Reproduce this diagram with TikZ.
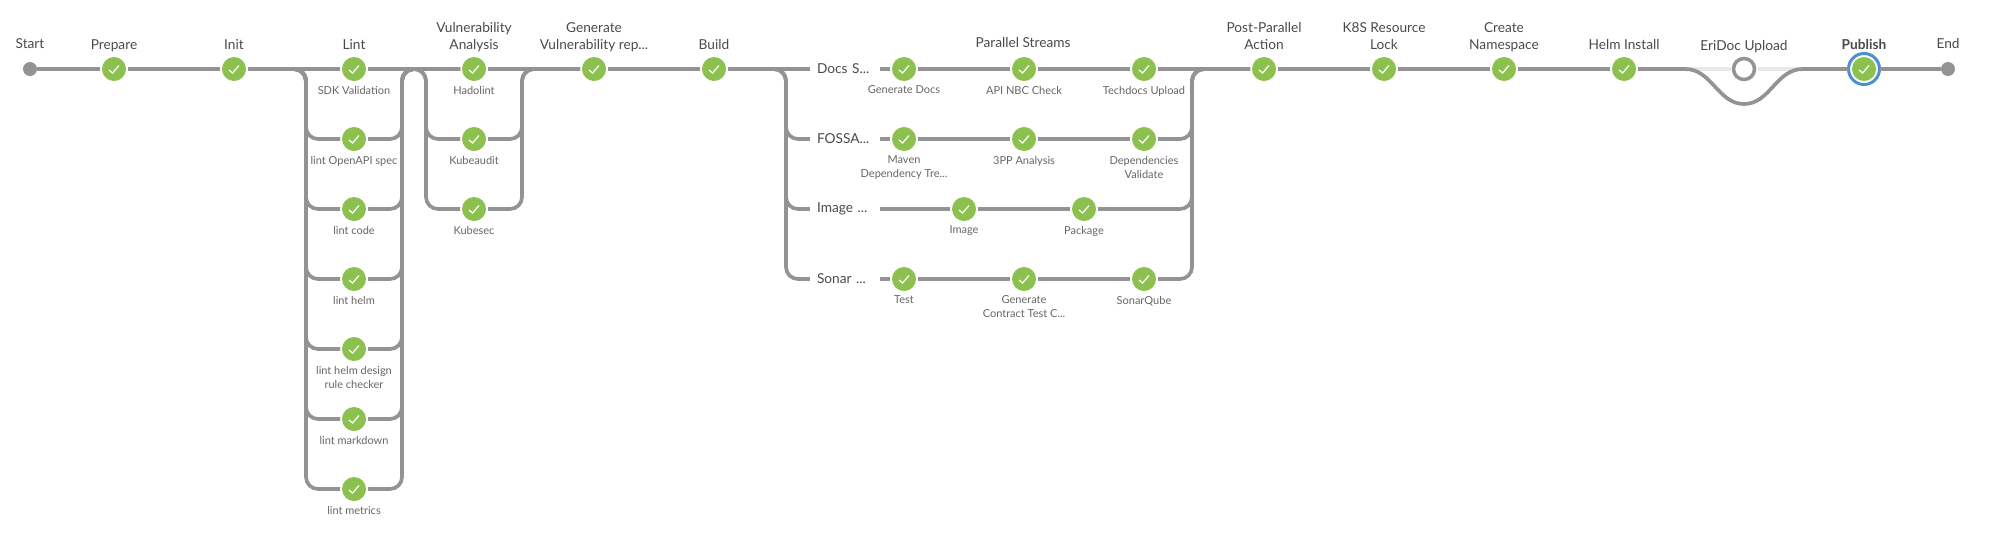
\documentclass[tikz,border=0pt]{standalone}
\usepackage{fontspec}
\setmainfont{Lato}
\definecolor{pipegray}{HTML}{949393}
\definecolor{skipgray}{HTML}{E8E8E8}
\definecolor{okgreen}{HTML}{8CC04F}
\definecolor{ringblue}{HTML}{4A90D2}
\definecolor{titlegray}{HTML}{4A4A4A}
\definecolor{subgray}{HTML}{666666}
\begin{document}
\begin{tikzpicture}[
    x=1pt, y=-1pt,
    toplabel/.style={font=\fontsize{13.7}{17}\selectfont, text=titlegray, align=center, inner sep=0pt, text depth=4pt, yshift=1pt},
    endlabel/.style={toplabel, yshift=8.5pt},
    sublabel/.style={font=\fontsize{11}{14}\selectfont, text=subgray, align=center, inner sep=0pt, yshift=-2.7pt},
    stage/.style={circle, fill=okgreen, minimum size=24pt, inner sep=0pt, outer sep=2pt,
        path picture={\draw[white, line width=1.2pt, shift={(path picture bounding box.center)}] (-5,1) -- (-1.5,4) -- (5,-3.5);}},
    terminal/.style={circle, fill=pipegray, minimum size=14pt, inner sep=0pt, outer sep=0pt},
    skipped/.style={circle, draw=pipegray, line width=3.5pt, fill=white, minimum size=21pt, inner sep=0pt, outer sep=3pt},
    focusring/.style={circle, draw=ringblue, line width=3pt, minimum size=31pt, inner sep=0pt, outer sep=0pt},
    streamlabel/.style={font=\fontsize{13.7}{17}\selectfont, text=titlegray, text width=56pt, inner sep=7pt, align=left},
    pipe/.style={draw=pipegray, line width=3.7pt, rounded corners=12pt},
    skipcurve/.style={draw=pipegray, line width=3.7pt},
    skipline/.style={draw=skipgray, line width=3.7pt}
]
\useasboundingbox (0,0) rectangle (2012,542);

% Main line of stages
\node[terminal, label={[endlabel]above:Start}] (start) at (30,69) {};
\node[stage, label={[toplabel]above:Prepare}] (prepare) at (114,69) {};
\node[stage, label={[toplabel]above:Init}] (init) at (234,69) {};
\node[stage, label={[toplabel]above:Lint}, label={[sublabel]below:SDK Validation}] (sdk) at (354,69) {};
\node[stage, label={[toplabel]above:Vulnerability\\Analysis}, label={[sublabel]below:Hadolint}] (hadolint) at (474,69) {};
\node[stage, label={[toplabel]above:Generate\\Vulnerability rep...}] (genreport) at (594,69) {};
\node[stage, label={[toplabel]above:Build}] (build) at (714,69) {};
\node[stage, label={[toplabel]above:Post-Parallel\\Action}] (postparallel) at (1264,69) {};
\node[stage, label={[toplabel]above:K8S Resource\\Lock}] (k8slock) at (1384,69) {};
\node[stage, label={[toplabel]above:Create\\Namespace}] (namespace) at (1504,69) {};
\node[stage, label={[toplabel]above:Helm Install}] (helm) at (1624,69) {};
\node[skipped, label={[toplabel]above:EriDoc Upload}] (eridoc) at (1744,69) {};
\node[stage, label={[toplabel]above:\textbf{Publish}}] (publish) at (1864,69) {};
\node[focusring] (publishring) at (1864,69) {};
\node[terminal, label={[endlabel]above:End}] (end) at (1948,69) {};

% Lint branches
\node[stage, label={[sublabel]below:lint OpenAPI spec}] (openapi) at (354,139) {};
\node[stage, label={[sublabel]below:lint code}] (lintcode) at (354,209) {};
\node[stage, label={[sublabel]below:lint helm}] (linthelm) at (354,279) {};
\node[stage, label={[sublabel]below:lint helm design\\rule checker}] (lintdesign) at (354,349) {};
\node[stage, label={[sublabel]below:lint markdown}] (lintmarkdown) at (354,419) {};
\node[stage, label={[sublabel]below:lint metrics}] (lintmetrics) at (354,489) {};

% Vulnerability branches
\node[stage, label={[sublabel]below:Kubeaudit}] (kubeaudit) at (474,139) {};
\node[stage, label={[sublabel]below:Kubesec}] (kubesec) at (474,209) {};

% Parallel streams
\node[toplabel] (paralleltitle) at (1023,45.5) {Parallel Streams};
\node[streamlabel] (docsstream) at (845,69) {Docs S...};
\node[streamlabel] (fossastream) at (845,139) {FOSSA...};
\node[streamlabel] (imagestream) at (845,209) {Image ...};
\node[streamlabel] (sonarstream) at (845,279) {Sonar ...};

\node[stage, label={[sublabel]below:Generate Docs}] (gendocs) at (904,69) {};
\node[stage, label={[sublabel]below:API NBC Check}] (apinbc) at (1024,69) {};
\node[stage, label={[sublabel]below:Techdocs Upload}] (techdocs) at (1144,69) {};
\node[stage, label={[sublabel]below:Maven\\Dependency Tre...}] (maven) at (904,139) {};
\node[stage, label={[sublabel]below:3PP Analysis}] (threepp) at (1024,139) {};
\node[stage, label={[sublabel]below:Dependencies\\Validate}] (depvalidate) at (1144,139) {};
\node[stage, label={[sublabel]below:Image}] (image) at (964,209) {};
\node[stage, label={[sublabel]below:Package}] (package) at (1084,209) {};
\node[stage, label={[sublabel]below:Test}] (test) at (904,279) {};
\node[stage, label={[sublabel]below:Generate\\Contract Test C...}] (contract) at (1024,279) {};
\node[stage, label={[sublabel]below:SonarQube}] (sonarqube) at (1144,279) {};

% Bend points
\coordinate (lintin) at (306,69);
\coordinate (lintout) at (402,69);
\coordinate (vulnin) at (426,69);
\coordinate (vulnout) at (522,69);
\coordinate (streamin) at (786,69);
\coordinate (streamout) at (1192,69);
\coordinate (skipin) at (1685,69);
\coordinate (skipbottom) at (1744,104);
\coordinate (skipout) at (1803,69);

% Arrows
\draw[pipe] (start) -- (prepare);
\draw[pipe] (prepare) -- (init);
\draw[pipe] (init) -- (sdk);
\draw[pipe] (sdk) -- (hadolint);
\draw[pipe] (hadolint) -- (genreport);
\draw[pipe] (genreport) -- (build);
\draw[pipe] (build) -- (docsstream);
\draw[pipe] (docsstream) -- (gendocs);
\draw[pipe] (gendocs) -- (apinbc);
\draw[pipe] (apinbc) -- (techdocs);
\draw[pipe] (techdocs) -- (postparallel);
\draw[pipe] (postparallel) -- (k8slock);
\draw[pipe] (k8slock) -- (namespace);
\draw[pipe] (namespace) -- (helm);

% Into and out of Lint
\draw[pipe] (init) -- (lintin) -- (lintin |- openapi) -- (openapi);
\draw[pipe] (init) -- (lintin) -- (lintin |- lintcode) -- (lintcode);
\draw[pipe] (init) -- (lintin) -- (lintin |- linthelm) -- (linthelm);
\draw[pipe] (init) -- (lintin) -- (lintin |- lintdesign) -- (lintdesign);
\draw[pipe] (init) -- (lintin) -- (lintin |- lintmarkdown) -- (lintmarkdown);
\draw[pipe] (init) -- (lintin) -- (lintin |- lintmetrics) -- (lintmetrics);
\draw[pipe] (openapi) -- (lintout |- openapi) -- (lintout) -- (hadolint);
\draw[pipe] (lintcode) -- (lintout |- lintcode) -- (lintout) -- (hadolint);
\draw[pipe] (linthelm) -- (lintout |- linthelm) -- (lintout) -- (hadolint);
\draw[pipe] (lintdesign) -- (lintout |- lintdesign) -- (lintout) -- (hadolint);
\draw[pipe] (lintmarkdown) -- (lintout |- lintmarkdown) -- (lintout) -- (hadolint);
\draw[pipe] (lintmetrics) -- (lintout |- lintmetrics) -- (lintout) -- (hadolint);

% Into and out of Vulnerability Analysis
\draw[pipe] (sdk) -- (vulnin) -- (vulnin |- kubeaudit) -- (kubeaudit);
\draw[pipe] (sdk) -- (vulnin) -- (vulnin |- kubesec) -- (kubesec);
\draw[pipe] (kubeaudit) -- (vulnout |- kubeaudit) -- (vulnout) -- (genreport);
\draw[pipe] (kubesec) -- (vulnout |- kubesec) -- (vulnout) -- (genreport);

% Into the streams
\draw[pipe] (build) -- (streamin) -- (streamin |- fossastream) -- (fossastream);
\draw[pipe] (build) -- (streamin) -- (streamin |- imagestream) -- (imagestream);
\draw[pipe] (build) -- (streamin) -- (streamin |- sonarstream) -- (sonarstream);
\draw[pipe] (fossastream) -- (maven);
\draw[pipe] (maven) -- (threepp);
\draw[pipe] (threepp) -- (depvalidate);
\draw[pipe] (imagestream) -- (image);
\draw[pipe] (image) -- (package);
\draw[pipe] (sonarstream) -- (test);
\draw[pipe] (test) -- (contract);
\draw[pipe] (contract) -- (sonarqube);

% Out of the streams
\draw[pipe] (depvalidate) -- (streamout |- depvalidate) -- (streamout) -- (postparallel);
\draw[pipe] (package) -- (streamout |- package) -- (streamout) -- (postparallel);
\draw[pipe] (sonarqube) -- (streamout |- sonarqube) -- (streamout) -- (postparallel);

% Skipped stage
\draw[skipline] (skipin) -- (eridoc);
\draw[skipline] (eridoc) -- (skipout);
\draw[skipcurve] (helm) -- (skipin) .. controls (1712,69) and (1718,104) .. (skipbottom) .. controls (1770,104) and (1776,69) .. (skipout) -- (publishring);
\draw[pipe] (publishring) -- (end);
\end{tikzpicture}
\end{document}
